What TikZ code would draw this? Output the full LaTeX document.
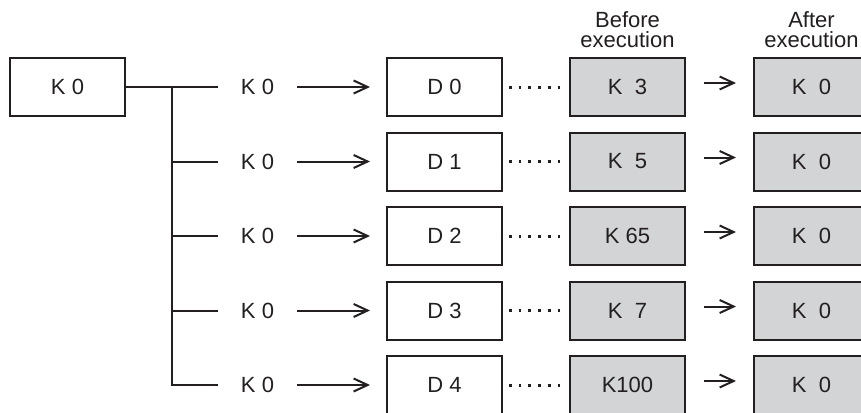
\documentclass[tikz,border=0pt]{standalone}
\usepackage{fontspec}
\setmainfont{Liberation Sans}
\usepackage{xcolor}
\usetikzlibrary{arrows.meta, positioning}
\definecolor{inkgray}{RGB}{35,31,32}
\definecolor{cellgray}{RGB}{211,212,214}

\begin{document}
\begin{tikzpicture}[
    x=1pt, y=-1pt,
    every node/.style={text=inkgray, font=\fontsize{22}{20}\selectfont},
    srcbox/.style={rectangle, draw=inkgray, line width=2pt, minimum width=115pt, minimum height=58pt, inner sep=0pt},
    valbox/.style={srcbox, fill=cellgray},
    konst/.style={minimum width=79pt, inner sep=0pt},
    head/.style={align=center, inner sep=0pt},
    wire/.style={draw=inkgray, line width=2pt},
    line/.style={wire, -{Straight Barb[length=14pt, width=13pt]}},
    dots/.style={draw=inkgray, line width=3pt, dash pattern=on 2.7pt off 7pt}
]
    \useasboundingbox (0,0) rectangle (861,412);

    % Layout
    \node[srcbox] (K) at (67.5,87) {K 0};
    \foreach \i/\y/\before in {0/87/{K\ \ 3}, 1/161.5/{K\ \ 5}, 2/236/{K 65}, 3/310.5/{K\ \ 7}, 4/385/{K100}} {
        \coordinate (T\i) at (172,\y);
        \node[konst] (L\i) at (257.5,\y) {K 0};
        \node[srcbox] (D\i) at (444.5,\y) {D \i};
        \node[valbox, right=66pt of D\i] (B\i) {\before};
        \node[valbox, right=67pt of B\i] (A\i) {K\ \ 0};
    }
    \node[head, above=9pt of B0] (before) {Before\\execution};
    \node[head, above=9pt of A0] (after) {After\\execution};

    % Arrows
    \draw[wire] (K.east) -- (L0.west);
    \draw[wire] (T0) -- (T4) -- (L4.west);
    \foreach \i in {1,2,3} {
        \draw[wire] (T\i) -- (L\i.west);
    }
    \foreach \i in {0,...,4} {
        \draw[line, shorten >=16pt] (L\i.east) -- (D\i.west);
        \draw[dots, shorten <=6pt, shorten >=7pt] (D\i.east) -- (B\i.west);
        \draw[line, shorten <=18pt, shorten >=17pt] ([yshift=4pt]B\i.east) -- ([yshift=4pt]A\i.west);
    }
\end{tikzpicture}
\end{document}
